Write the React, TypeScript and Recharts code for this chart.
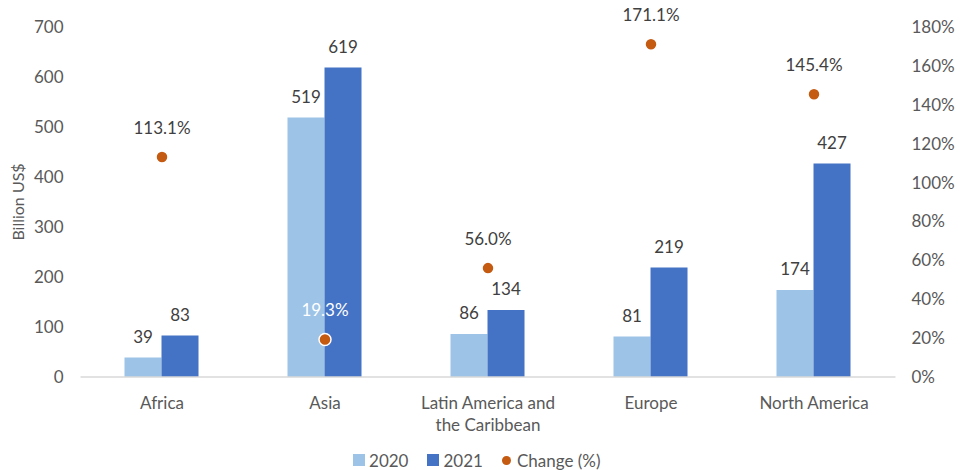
import React from 'react';
import { ComposedChart, Bar, Scatter, XAxis, YAxis, LabelList, Legend } from 'recharts';

const categories = ['Africa', 'Asia', 'Latin America and the Caribbean', 'Europe', 'North America'];
const values2020 = [39, 519, 86, 81, 174];
const values2021 = [83, 619, 134, 219, 427];
const changePct = [113.1, 19.3, 56.0, 171.1, 145.4];
const leftTicks = [0, 100, 200, 300, 400, 500, 600, 700];
const rightTicks = [0, 20, 40, 60, 80, 100, 120, 140, 160, 180];
const labelsOnBar = new Set(['Asia']);

const data = categories.map((name, i) => ({
  name,
  v2020: values2020[i],
  v2021: values2021[i],
  change: changePct[i],
}));

const FONT = 'Lato, "Open Sans", sans-serif';
const FS = 17;
const TICK_COLOR = '#595959';
const LABEL_COLOR = '#404040';
const C2020 = '#9DC3E6';
const C2021 = '#4472C4';
const CCHANGE = '#C55A11';

function wrapWords(s: string, max: number): string[] {
  const words = s.split(' ');
  const lines: string[] = [];
  let cur = '';
  for (const w of words) {
    const next = cur ? cur + ' ' + w : w;
    if (next.length > max && cur) {
      lines.push(cur);
      cur = w;
    } else {
      cur = next;
    }
  }
  if (cur) lines.push(cur);
  return lines;
}

const CategoryTick = (props: any) => {
  const { x, y, payload } = props;
  const lines = wrapWords(String(payload.value), 18);
  return (
    <text x={x} y={y + 32} textAnchor="middle" fill={TICK_COLOR} fontSize={FS} fontFamily={FONT}>
      {lines.map((l, i) => (
        <tspan key={i} x={x} dy={i === 0 ? 0 : 22}>
          {l}
        </tspan>
      ))}
    </text>
  );
};

const ChangeDot = (props: any) => {
  const { cx, cy, payload } = props;
  if (cx == null || cy == null) return null;
  const white = labelsOnBar.has(payload.name);
  return (
    <g>
      <circle cx={cx} cy={cy} r={6} fill={CCHANGE} stroke="#ffffff" strokeWidth={1.5} />
      <text
        x={cx}
        y={cy - 23}
        textAnchor="middle"
        fill={white ? '#ffffff' : LABEL_COLOR}
        fontSize={FS}
        fontFamily={FONT}
      >
        {payload.change.toFixed(1)}%
      </text>
    </g>
  );
};

const LegendContent = () => (
  <div
    style={{
      display: 'flex',
      justifyContent: 'center',
      alignItems: 'center',
      height: 20,
      fontFamily: FONT,
      fontSize: FS,
      color: TICK_COLOR,
      paddingLeft: 8,
    }}
  >
    <span style={{ display: 'inline-block', width: 12, height: 12, background: C2020, marginRight: 4 }} />
    <span style={{ marginRight: 19 }}>2020</span>
    <span style={{ display: 'inline-block', width: 12, height: 12, background: C2021, marginRight: 4 }} />
    <span style={{ marginRight: 19 }}>2021</span>
    <span
      style={{ display: 'inline-block', width: 9, height: 9, borderRadius: '50%', background: CCHANGE, marginRight: 6 }}
    />
    <span>Change (%)</span>
  </div>
);

export default function App() {
  return (
    <div style={{ position: 'absolute', left: 0, top: 0, width: 961, height: 470, background: '#fff' }}>
      <ComposedChart
        width={961}
        height={470}
        data={data}
        margin={{ top: 27, right: 15.5, left: 0, bottom: 0 }}
        barGap={0}
        barCategoryGap="27%"
      >
        <XAxis
          dataKey="name"
          xAxisId={0}
          axisLine={{ stroke: '#D9D9D9', strokeWidth: 1.5 }}
          tickLine={false}
          tickSize={0}
          tickMargin={0}
          height={73}
          interval={0}
          tick={<CategoryTick />}
        />
        <YAxis
          yAxisId="left"
          orientation="left"
          width={80.5}
          domain={[0, 700]}
          ticks={leftTicks}
          axisLine={false}
          tickLine={false}
          tickSize={0}
          tickMargin={17}
          tick={{ fill: TICK_COLOR, fontSize: FS, fontFamily: FONT }}
          label={{
            value: 'Billion US$',
            angle: -90,
            position: 'insideLeft',
            offset: 18,
            style: { fill: TICK_COLOR, fontSize: FS - 1, fontFamily: FONT, textAnchor: 'middle' },
          }}
        />
        <YAxis
          yAxisId="right"
          orientation="right"
          width={50}
          domain={[0, 180]}
          ticks={rightTicks}
          axisLine={false}
          tickLine={false}
          tickSize={0}
          tickMargin={16}
          tickFormatter={(v: number) => `${v}%`}
          tick={{ fill: TICK_COLOR, fontSize: FS, fontFamily: FONT, textAnchor: 'start' }}
        />
        <Bar yAxisId="left" dataKey="v2020" name="2020" fill={C2020} isAnimationActive={false}>
          <LabelList
            dataKey="v2020"
            position="top"
            offset={15}
            fill={LABEL_COLOR}
            style={{ fontSize: FS, fontFamily: FONT, fill: LABEL_COLOR }}
          />
        </Bar>
        <Bar yAxisId="left" dataKey="v2021" name="2021" fill={C2021} isAnimationActive={false}>
          <LabelList
            dataKey="v2021"
            position="top"
            offset={15}
            fill={LABEL_COLOR}
            style={{ fontSize: FS, fontFamily: FONT, fill: LABEL_COLOR }}
          />
        </Bar>
        <Scatter
          yAxisId="right"
          dataKey="change"
          name="Change (%)"
          fill={CCHANGE}
          shape={<ChangeDot />}
          isAnimationActive={false}
        />
        <Legend verticalAlign="bottom" content={<LegendContent />} wrapperStyle={{ bottom: 0, height: 20 }} />
      </ComposedChart>
    </div>
  );
}
